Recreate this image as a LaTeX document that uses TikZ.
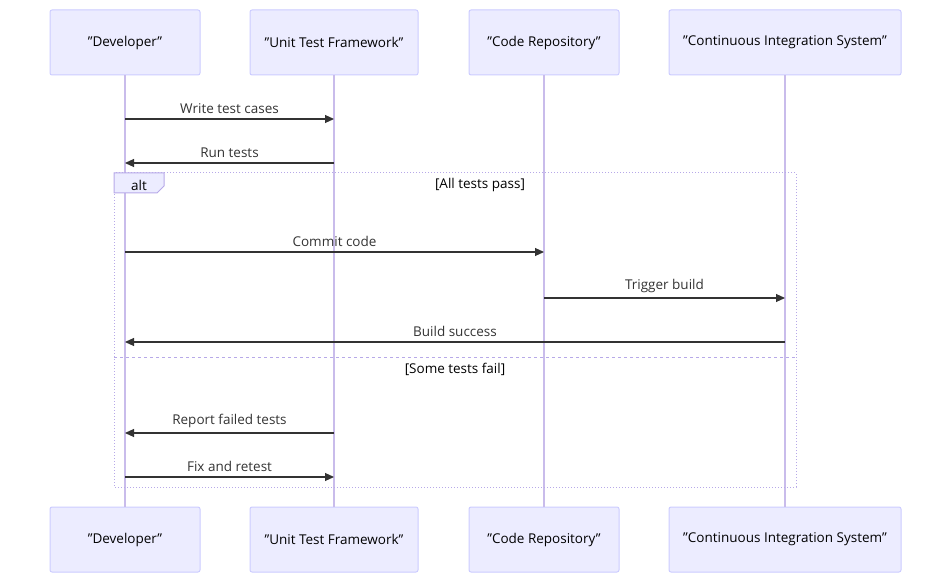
\documentclass[tikz,border=0pt]{standalone}
\usepackage{fontspec}
\setmainfont{Open Sans}
\usetikzlibrary{arrows.meta}
\definecolor{actfill}{HTML}{ECECFF}
\definecolor{actline}{HTML}{CCCCFF}
\definecolor{life}{HTML}{C9BCEB}
\definecolor{ink}{HTML}{333333}
\definecolor{altc}{HTML}{B7A9E8}
\begin{document}
\begin{tikzpicture}[x=1pt,y=-1pt,
  actor/.style={draw=actline,fill=actfill,line width=1pt,rounded corners=2pt,minimum height=65pt,inner sep=0pt,font=\fontsize{13.5}{16}\selectfont,text=black},
  msg/.style={draw=ink,line width=1.1pt,-{Triangle[length=9pt,width=8pt]}},
  lbl/.style={font=\fontsize{13.5}{16}\selectfont,text=ink},
  lifeline/.style={draw=life,line width=1.2pt}]
\useasboundingbox (0,0) rectangle (951,583);
% actors
\foreach \n/\x/\w/\t in {d/125/150/"Developer",u/334/168/"Unit Test Framework",c/544/150/"Code Repository",s/785/232/"Continuous Integration System"}{
  \node[actor,minimum width=\w pt] (\n top) at (\x,42.5) {\t};
  \node[actor,minimum width=\w pt] (\n bot) at (\x,539.5) {\t};
  \draw[lifeline] (\n top.south) -- (\n bot.north);
}
% alt box
\draw[altc,line width=1pt,dotted] (114,173) rectangle (796,487);
\draw[altc,line width=1pt,dashed] (114,357) -- (796,357);
\draw[altc,fill=actfill,line width=1pt] (114,173) -- (164,173) -- (164,186) -- (157,193) -- (114,193) -- cycle;
\node[lbl,text=black] (altl) at (139,185) {alt};
\node[lbl,text=black] (c1) at (480,185) {[All tests pass]};
\node[lbl,text=black] (c2) at (455,369) {[Some tests fail]};
% messages
\foreach \a/\b/\y/\t in {d/u/119/Write test cases,u/d/163/Run tests,d/c/252/Commit code,c/s/298/Trigger build,s/d/342/Build success,u/d/433/Report failed tests,d/u/477/Fix and retest}{
  \coordinate (\a\y) at (\a top.south |- 0,\y);
  \coordinate (\b\y) at (\b top.south |- 0,\y);
  \draw[msg] (\a\y) -- (\b\y);
  \path (\a\y) -- node[lbl,above=2pt] {\t} (\b\y);
}
\end{tikzpicture}
\end{document}
